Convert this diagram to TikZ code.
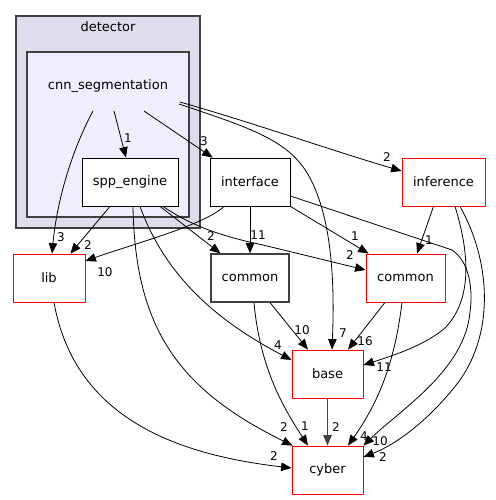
\documentclass[tikz,border=0pt]{standalone}
\usepackage{fontspec}
\setmainfont{DejaVu Sans}
\usetikzlibrary{arrows.meta}
\definecolor{clusterA}{HTML}{DDDDEE}
\definecolor{clusterB}{HTML}{EEEEFF}
\definecolor{dgrey}{HTML}{404040}
\begin{document}
\begin{tikzpicture}[x=1pt,y=-1pt,
  box/.style={draw=black, rectangle, fill=white, minimum height=48pt, inner sep=0pt, font=\fontsize{13}{15}\selectfont, line width=0.8pt},
  redbox/.style={box, draw=red},
  greybox/.style={box, draw=dgrey, line width=1.1pt},
  edge/.style={-{Triangle[length=10.5pt,width=8.5pt]}, line width=0.8pt},
  lbl/.style={font=\fontsize{12}{14}\selectfont, inner sep=0pt},
  clab/.style={font=\fontsize{13}{15}\selectfont, inner sep=0pt}]
\useasboundingbox (0,0) rectangle (495,500);
% clusters
\draw[fill=clusterA, draw=dgrey, line width=1.2pt] (16,16) rectangle (200,228);
\node[clab] (detlabel) at (108,27) {detector};
\draw[fill=clusterB, draw=dgrey, line width=1.2pt] (27,52) rectangle (189,217);
\node[clab] (cnnlabel) at (108,86) {cnn\_segmentation};
\coordinate (cnnA) at (93,111);
\coordinate (cnnB) at (114,111);
\coordinate (cnnC) at (144,111);
\coordinate (cnnD) at (179,104);
\coordinate (cnnE) at (180,102);
% nodes
\node[box, minimum width=96pt] (spp) at (130,182) {spp\_engine};
\node[box, minimum width=80pt] (interface) at (250,182) {interface};
\node[redbox, minimum width=83pt] (inference) at (443.5,182) {inference};
\node[greybox, minimum width=78pt] (commonA) at (250,278) {common};
\node[redbox, minimum width=79pt] (commonB) at (405.5,278) {common};
\node[redbox, minimum width=72pt] (lib) at (49,278) {lib};
\node[redbox, minimum width=71pt] (base) at (327.5,374) {base};
\node[redbox, minimum width=71pt] (cyber) at (327.5,470) {cyber};
% edges from cnn_segmentation
\draw[edge] (cnnA) .. controls (72,150) and (57,200) .. ([xshift=3pt]lib.north);
\node[lbl] (l1) at (61,237) {3};
\draw[edge] (cnnB) -- ([xshift=-4pt]spp.north);
\node[lbl] (l2) at (128,138) {1};
\draw[edge] (cnnC) -- ([xshift=3pt]interface.north west);
\node[lbl] (l3) at (204,141) {3};
\draw[edge] (cnnD) .. controls (250,128) and (290,140) .. (310,178) .. controls (335,225) and (334,300) .. ([xshift=4.5pt]base.north);
\node[lbl] (l4) at (343,333) {7};
\draw[edge] (cnnE) .. controls (260,125) and (330,150) .. ([yshift=11pt]inference.west);
\node[lbl] (l5) at (387,157) {2};
% edges from spp_engine
\draw[edge] ([xshift=-20pt]spp.south) -- ([xshift=-15pt]lib.north east);
\node[lbl] (l6) at (88,245) {2};
\draw[edge] ([xshift=30pt]spp.south) -- ([xshift=10pt]commonA.north west);
\node[lbl] (l7) at (211,236) {2};
\draw[edge] ([xshift=33pt]spp.south) .. controls (190,225) and (220,236) .. (263,245) -- ([yshift=8pt]commonB.west);
\node[lbl] (l8) at (350,255) {2};
\draw[edge] ([xshift=10pt]spp.south) .. controls (165,275) and (215,320) .. ([yshift=14pt]base.west);
\node[lbl] (l9) at (278,345) {4};
\draw[edge] ([xshift=3pt]spp.south) .. controls (135,330) and (180,390) .. ([xshift=1pt]cyber.north west);
\node[lbl] (l10) at (284,427) {2};
% edges from interface
\draw[edge] ([xshift=-26pt]interface.south) .. controls (205,225) and (130,245) .. ([yshift=17pt]lib.east);
\node[lbl] (l11) at (105,272) {10};
\draw[edge] (interface.south) -- (commonA.north);
\node[lbl] (l12) at (258,235) {11};
\draw[edge] (interface.south east) -- ([xshift=3pt]commonB.north west);
\node[lbl] (l13) at (355,236) {1};
\draw[edge] ([yshift=-14pt]interface.east) -- (452,250) .. controls (470,262) and (473,290) .. (470,312) .. controls (465,370) and (400,410) .. (cyber.north east);
\node[lbl] (l14) at (380,441) {10};
% edges from inference
\draw[edge] ([xshift=-10pt]inference.south) -- ([xshift=11.5pt]commonB.north);
\node[lbl] (l15) at (429,240) {1};
\draw[edge] ([xshift=11.5pt]inference.south) .. controls (470,255) and (472,300) .. (445,328) .. controls (425,345) and (395,355) .. ([yshift=9pt]base.east);
\node[lbl] (l16) at (384,367) {11};
\draw[edge] ([xshift=16.5pt]inference.south) .. controls (490,260) and (495,330) .. (460,380) .. controls (430,420) and (395,445) .. ([yshift=13pt]cyber.east);
\node[lbl] (l17) at (383,457) {2};
% edges from common (red)
\draw[edge] ([xshift=-20.5pt]commonB.south) -- ([xshift=20.5pt]base.north);
\node[lbl] (l18) at (365,341) {16};
\draw[edge] ([xshift=-3.5pt]commonB.south) .. controls (395,360) and (380,400) .. ([xshift=20.5pt]cyber.north);
\node[lbl] (l19) at (364,436) {4};
% edges from common (black)
\draw[edge] ([xshift=20pt]commonA.south) -- ([xshift=-19.5pt]base.north);
\node[lbl] (l20) at (302,330) {10};
\draw[edge] ([xshift=4pt]commonA.south) .. controls (260,370) and (285,410) .. ([xshift=-19.5pt]cyber.north);
\node[lbl] (l21) at (305,426) {1};
% base and lib to cyber
\draw[edge, draw=dgrey, fill=dgrey, line width=1.2pt] (base.south) -- (cyber.north);
\node[lbl] (l22) at (336,427) {2};
\draw[edge] ([xshift=5pt]lib.south) .. controls (75,420) and (180,455) .. ([yshift=2pt]cyber.west);
\node[lbl] (l23) at (274,456) {2};
\end{tikzpicture}
\end{document}
